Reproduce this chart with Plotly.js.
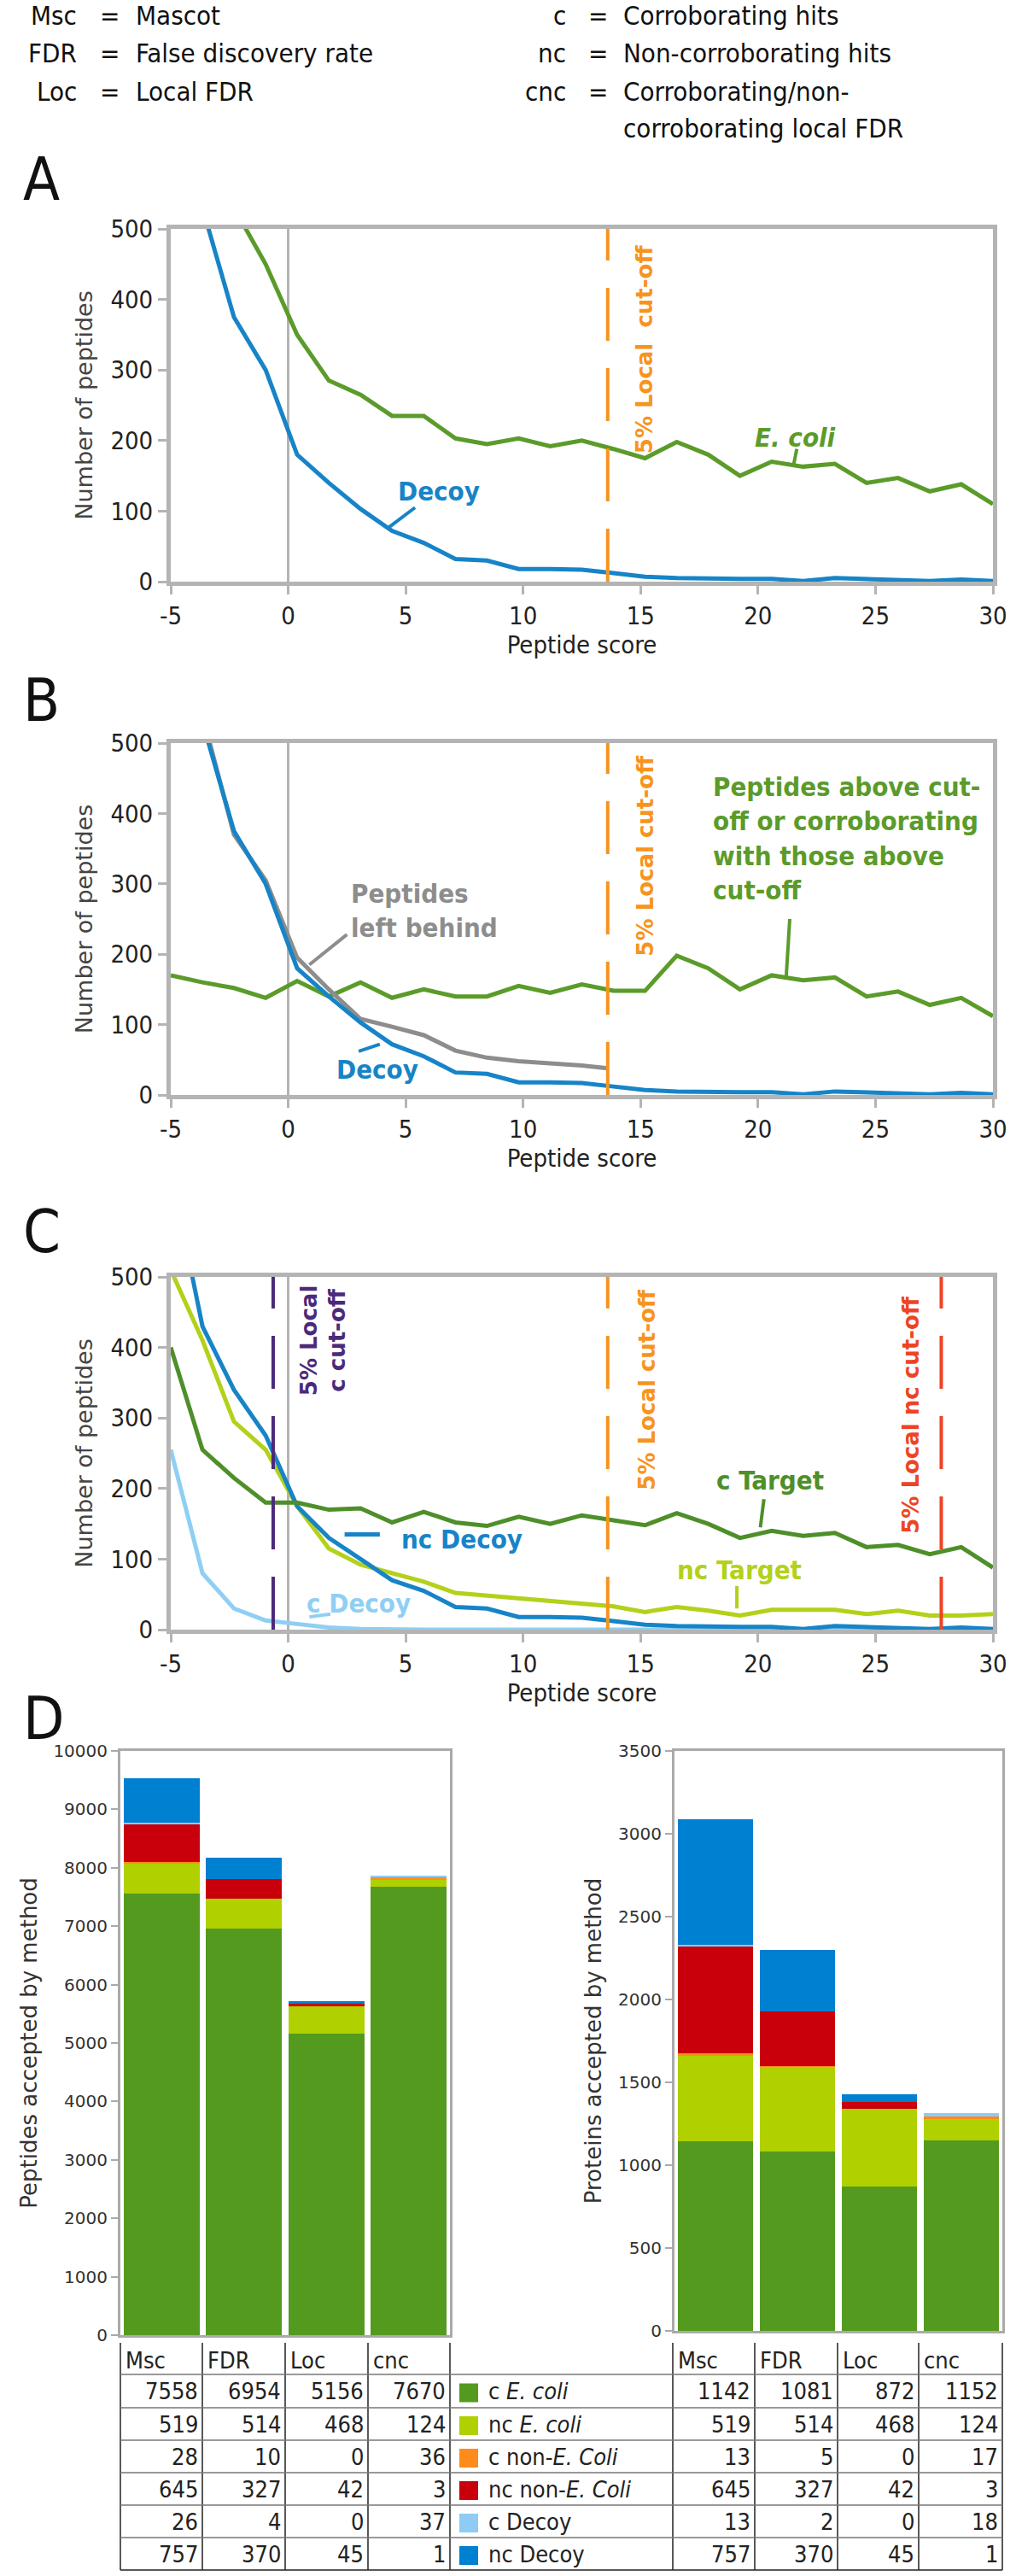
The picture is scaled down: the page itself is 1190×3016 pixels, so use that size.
<!DOCTYPE html>
<html>
<head>
<meta charset="utf-8">
<script src="https://cdn.plot.ly/plotly-3.0.1.min.js"></script>
<style>body{margin:0;background:#fff}#fig{width:1190px;height:3016px}</style>
</head>
<body>
<div id="fig"></div>
<script>
// peptide score bins
var score = [-5, -3.65, -2.31, -0.96, 0.38, 1.73, 3.08, 4.42, 5.77, 7.12, 8.46, 9.81, 11.15, 12.5,
  13.85, 15.19, 16.54, 17.88, 19.23, 20.58, 21.92, 23.27, 24.62, 25.96, 27.31, 28.65, 30];

// panel A
var aEcoli = [800, 650, 530, 450, 350, 285, 265, 235, 235, 203, 195, 203, 192, 200,
  188, 175, 198, 180, 150, 170, 163, 167, 140, 147, 128, 138, 110];
var decoy = [700, 530, 375, 300, 180, 140, 103, 72, 55, 32, 30, 18, 18, 17,
  12, 7, 5, 4, 4, 4, 1, 5, 4, 3, 1, 3, 1];

// panel B
var bAbove = [170, 160, 152, 138, 162, 140, 160, 138, 150, 140, 140, 155, 145, 157,
  148, 148, 198, 180, 150, 170, 163, 167, 140, 147, 128, 138, 112];
var bLeftScore = [-3.65, -2.31, -0.96, 0.38, 1.73, 3.08, 4.42, 5.77, 7.12, 8.46, 9.81, 11.15, 12.5, 13.6];
var bLeft = [540, 370, 305, 195, 150, 108, 97, 85, 63, 53, 48, 45, 42, 38];

// panel C
var cTarget = [400, 255, 215, 180, 180, 170, 172, 152, 167, 152, 147, 160, 150, 162,
  155, 148, 165, 150, 130, 140, 133, 137, 117, 120, 107, 117, 88];
var ncTarget = [510, 410, 295, 255, 175, 115, 92, 80, 68, 52, 48, 45, 40, 37,
  33, 25, 32, 27, 20, 28, 28, 28, 22, 27, 20, 20, 22];
var ncDecoy = [650, 430, 340, 275, 175, 130, 100, 70, 55, 32, 30, 18, 18, 17,
  12, 7, 5, 4, 4, 4, 1, 5, 4, 3, 1, 3, 1];
var cDecoy = [255, 80, 30, 13, 8, 3, 1, 0, 0, 0, 0, 0, 0, 0,
  0, 0, 0, 0, 0, 0, 0, 0, 0, 0, 0, 0, 0];

// cut-offs
var cutLocal = 13.6, cutC = -0.64, cutNC = 27.8;

// panel D
var methods = ['Msc', 'FDR', 'Loc', 'cnc'];
var groupNames = ['c E. coli', 'nc E. coli', 'c non-E. Coli', 'nc non-E. Coli', 'c Decoy', 'nc Decoy'];
var groupLabels = ['c <i>E. coli</i>', 'nc <i>E. coli</i>', 'c non-<i>E. Coli</i>', 'nc non-<i>E. Coli</i>', 'c Decoy', 'nc Decoy'];
var groupColors = ['#549a1f', '#b0d000', '#ff8c1a', '#c9000b', '#8ecbf5', '#0080d0'];
var peptides = [
  [7558, 6954, 5156, 7670],
  [519, 514, 468, 124],
  [28, 10, 0, 36],
  [645, 327, 42, 3],
  [26, 4, 0, 37],
  [757, 370, 45, 1]
];
var proteins = [
  [1142, 1081, 872, 1152],
  [519, 514, 468, 124],
  [13, 5, 0, 17],
  [645, 327, 42, 3],
  [13, 2, 0, 18],
  [757, 370, 45, 1]
];

var W = 1190, H = 3016;
function px(x) { return x / W; }
function py(y) { return 1 - y / H; }

var NARROW = "'DejaVu Sans Condensed', 'Liberation Sans Narrow', 'DejaVu Sans', sans-serif";
var WIDE = "'DejaVu Sans', sans-serif";

var GREEN = '#5b9b2a', BLUE = '#1784c7', ORANGE = '#f7941d', GRAY = '#8d8d8d',
  PURPLE = '#4b2a7b', RED = '#ee4424', YG = '#b3d11a', LBLUE = '#8fcff3', DGREEN = '#4e8f2a';

var traces = [];
function line(x, y, color, xa, ya) {
  traces.push({x: x, y: y, mode: 'lines', line: {color: color, width: 5}, xaxis: xa, yaxis: ya,
    showlegend: false, hoverinfo: 'skip'});
}
line(score, aEcoli, GREEN, 'x', 'y');
line(score, decoy, BLUE, 'x', 'y');
line(score, bAbove, GREEN, 'x2', 'y2');
line(bLeftScore, bLeft, GRAY, 'x2', 'y2');
line(score, decoy, BLUE, 'x2', 'y2');
line(score, cDecoy, LBLUE, 'x3', 'y3');
line(score, ncTarget, YG, 'x3', 'y3');
line(score, ncDecoy, BLUE, 'x3', 'y3');
line(score, cTarget, DGREEN, 'x3', 'y3');

for (var g = 0; g < 6; g++) {
  traces.push({type: 'bar', x: methods, y: peptides[g], marker: {color: groupColors[g]},
    xaxis: 'x4', yaxis: 'y4', showlegend: false, name: groupNames[g]});
  traces.push({type: 'bar', x: methods, y: proteins[g], marker: {color: groupColors[g]},
    xaxis: 'x5', yaxis: 'y5', showlegend: false, name: groupNames[g]});
}

function xLine(dom, anchor) {
  return {domain: dom, anchor: anchor, range: [-5, 30], tickvals: [-5, 0, 5, 10, 15, 20, 25, 30],
    ticktext: ['-5', '0', '5', '10', '15', '20', '25', '30'],
    showline: true, linecolor: '#b4b4b4', linewidth: 5, mirror: true, showgrid: false,
    zeroline: true, zerolinecolor: '#b4b4b4', zerolinewidth: 3,
    ticks: 'outside', ticklen: 10, tickwidth: 3, tickcolor: '#b4b4b4',
    tickfont: {family: NARROW, size: 29, color: '#222'},
    title: {text: 'Peptide score', font: {family: NARROW, size: 29, color: '#222'}, standoff: 6}};
}
function yLine(dom, anchor) {
  return {domain: dom, anchor: anchor, range: [0, 500], dtick: 100,
    showline: true, linecolor: '#b4b4b4', linewidth: 5, mirror: true, showgrid: false, zeroline: false,
    ticks: 'outside', ticklen: 10, tickwidth: 3, tickcolor: '#b4b4b4',
    tickfont: {family: NARROW, size: 29, color: '#222'},
    title: {text: 'Number of peptides', font: {family: WIDE, size: 27, color: '#444'}, standoff: 14}};
}
var xLineDom = [px(200), px(1163)];

function xBar(dom, anchor) {
  return {domain: dom, anchor: anchor, showticklabels: false, ticks: '', showline: true,
    linecolor: '#aaa', linewidth: 3, mirror: true, showgrid: false, range: [-0.5, 3.5]};
}
function yBar(dom, anchor, max, step, title) {
  return {domain: dom, anchor: anchor, range: [0, max], dtick: step, tickformat: 'd', showline: true, linecolor: '#aaa',
    linewidth: 3, mirror: true, showgrid: false, zeroline: false, ticks: 'outside', ticklen: 8,
    tickcolor: '#aaa', tickwidth: 2, tickfont: {family: WIDE, size: 20, color: '#333'},
    title: {text: title, font: {family: WIDE, size: 26, color: '#333'}, standoff: 12}};
}

var ann = [];
function txt(t, x, y, opts) {
  var a = {text: t, x: x, y: y, showarrow: false, xanchor: 'center', yanchor: 'middle',
    font: {family: NARROW, size: 31, color: '#111'}};
  for (var k in opts) a[k] = opts[k];
  ann.push(a);
}
// header legend
var hdrL = [['Msc', 'Mascot'], ['FDR', 'False discovery rate'], ['Loc', 'Local FDR']];
var hdrR = [['c', 'Corroborating hits'], ['nc', 'Non-corroborating hits'], ['cnc', 'Corroborating/non-'], ['', 'corroborating local FDR']];
var hy = [18, 62, 107, 150];
hdrL.forEach(function (h, i) {
  txt(h[0], px(92), py(hy[i]), {xref: 'paper', yref: 'paper', xanchor: 'right'});
  txt('=', px(128), py(hy[i]), {xref: 'paper', yref: 'paper'});
  txt(h[1], px(157), py(hy[i]), {xref: 'paper', yref: 'paper', xanchor: 'left'});
});
hdrR.forEach(function (h, i) {
  if (h[0]) {
    txt(h[0], px(665), py(hy[i]), {xref: 'paper', yref: 'paper', xanchor: 'right'});
    txt('=', px(700), py(hy[i]), {xref: 'paper', yref: 'paper'});
  }
  txt(h[1], px(728), py(hy[i]), {xref: 'paper', yref: 'paper', xanchor: 'left'});
});
// panel letters
[['A', 210], ['B', 820], ['C', 1442], ['D', 2012]].forEach(function (p) {
  txt(p[0], px(25), py(p[1]), {xref: 'paper', yref: 'paper', xanchor: 'left',
    font: {family: NARROW, size: 70, color: '#111'}});
});

function lab(t, x, y, xa, ya, color, opts) {
  var o = {xref: xa, yref: ya, font: {family: NARROW, size: 31, color: color}};
  for (var k in opts) o[k] = opts[k];
  txt('<b>' + t + '</b>', x, y, o);
}
function rot(t, x, y, xa, ya, color) {
  txt('<b>' + t + '</b>', x, y, {xref: xa, yref: ya, textangle: -90,
    font: {family: WIDE, size: 26, color: color}});
}
// A
lab('Decoy', 6.4, 128, 'x', 'y', BLUE);
lab('<i>E. coli</i>', 21.6, 205, 'x', 'y', GREEN);
rot('5% Local  cut-off', 15.2, 330, 'x', 'y', ORANGE);
// B
lab('Peptides<br>left behind', 2.6, 262, 'x2', 'y2', GRAY, {xanchor: 'left', align: 'left'});
lab('Decoy', 3.8, 36, 'x2', 'y2', BLUE);
lab('Peptides above cut-<br>off or corroborating<br>with those above<br>cut-off', 18, 365, 'x2', 'y2', GREEN,
  {xanchor: 'left', align: 'left'});
rot('5% Local cut-off', 15.2, 340, 'x2', 'y2', ORANGE);
// C
rot('5% Local<br>c cut-off', 1.5, 410, 'x3', 'y3', PURPLE);
rot('5% Local cut-off', 15.3, 340, 'x3', 'y3', ORANGE);
rot('5% Local nc cut-off', 26.5, 305, 'x3', 'y3', RED);
lab('c Target', 20.5, 212, 'x3', 'y3', DGREEN);
lab('nc Decoy', 7.4, 128, 'x3', 'y3', BLUE);
lab('nc Target', 19.2, 85, 'x3', 'y3', YG);
lab('c Decoy', 3.0, 37, 'x3', 'y3', LBLUE);

var shapes = [];
function seg(xa, ya, x0, y0, x1, y1, color, w, dash) {
  shapes.push({type: 'line', xref: xa, yref: ya, x0: x0, y0: y0, x1: x1, y1: y1,
    line: {color: color, width: w, dash: dash || 'solid'}});
}
var DASH = '62px,32px';
seg('x', 'y', cutLocal, 0, cutLocal, 500, ORANGE, 4, DASH);
seg('x2', 'y2', cutLocal, 0, cutLocal, 500, ORANGE, 4, DASH);
seg('x3', 'y3', cutC, 0, cutC, 500, PURPLE, 4, DASH);
seg('x3', 'y3', cutLocal, 0, cutLocal, 500, ORANGE, 4, DASH);
seg('x3', 'y3', cutNC, 0, cutNC, 500, RED, 4, DASH);
// leaders
seg('x', 'y', 4.2, 75, 5.4, 105, BLUE, 4);
seg('x', 'y', 21.5, 163, 21.65, 188, GREEN, 4);
seg('x2', 'y2', 0.9, 185, 2.5, 228, GRAY, 4);
seg('x2', 'y2', 3.0, 62, 3.9, 72, BLUE, 4);
seg('x2', 'y2', 21.2, 168, 21.35, 250, GREEN, 4);
seg('x3', 'y3', 20.1, 145, 20.25, 185, DGREEN, 4);
seg('x3', 'y3', 2.4, 135, 3.9, 135, BLUE, 5);
seg('x3', 'y3', 19.1, 30, 19.1, 62, YG, 4);
seg('x3', 'y3', 0.9, 18, 1.8, 22, LBLUE, 4);

// table
var colL = [141, 237, 334, 431, 527], colR = [788, 884, 981, 1076, 1174];
var rowY = [2743, 2780, 2819, 2857, 2895, 2933, 2971, 3009];
function pseg(x0, y0, x1, y1, color, w) {
  shapes.push({type: 'line', xref: 'paper', yref: 'paper', x0: px(x0), y0: py(y0), x1: px(x1), y1: py(y1),
    line: {color: color, width: w}});
}
colL.concat(colR).forEach(function (c) { pseg(c, rowY[0], c, rowY[7], '#222', 1.5); });
for (var r = 1; r < 8; r++) pseg(141, rowY[r], 1174, rowY[r], r === 7 ? '#222' : '#777', 1.5);
var TF = {family: NARROW, size: 27, color: '#222'};
methods.forEach(function (m, i) {
  txt(m, px(colL[i] + 4), py((rowY[0] + rowY[1]) / 2 + 2), {xref: 'paper', yref: 'paper', xanchor: 'left', font: TF});
  txt(m, px(colR[i] + 4), py((rowY[0] + rowY[1]) / 2 + 2), {xref: 'paper', yref: 'paper', xanchor: 'left', font: TF});
});
for (var g2 = 0; g2 < 6; g2++) {
  var yc = py((rowY[g2 + 1] + rowY[g2 + 2]) / 2);
  for (var c = 0; c < 4; c++) {
    txt(String(peptides[g2][c]), px(colL[c + 1] - 3), yc, {xref: 'paper', yref: 'paper', xanchor: 'right', font: TF});
    txt(String(proteins[g2][c]), px(colR[c + 1] - 3), yc, {xref: 'paper', yref: 'paper', xanchor: 'right', font: TF});
  }
  var ym = (rowY[g2 + 1] + rowY[g2 + 2]) / 2;
  shapes.push({type: 'rect', xref: 'paper', yref: 'paper', x0: px(538), x1: px(560), y0: py(ym - 9), y1: py(ym + 13),
    fillcolor: groupColors[g2], line: {width: 0}});
  txt(groupLabels[g2], px(570), yc, {xref: 'paper', yref: 'paper', xanchor: 'left', font: TF});
}

var layout = {
  width: W, height: H, margin: {l: 0, r: 0, t: 0, b: 0},
  paper_bgcolor: '#fff', plot_bgcolor: '#fff', barmode: 'stack', bargap: 0.08,
  xaxis: xLine(xLineDom, 'y'), yaxis: yLine([py(681), py(268)], 'x'),
  xaxis2: xLine(xLineDom, 'y2'), yaxis2: yLine([py(1282), py(870)], 'x2'),
  xaxis3: xLine(xLineDom, 'y3'), yaxis3: yLine([py(1908), py(1495)], 'x3'),
  xaxis4: xBar([px(141), px(527)], 'y4'),
  yaxis4: yBar([py(2734), py(2050)], 'x4', 10000, 1000, 'Peptides accepted by method'),
  xaxis5: xBar([px(790), px(1174)], 'y5'),
  yaxis5: yBar([py(2729), py(2050)], 'x5', 3500, 500, 'Proteins accepted by method'),
  annotations: ann, shapes: shapes
};
Plotly.newPlot('fig', traces, layout, {staticPlot: true});
</script>
</body>
</html>
